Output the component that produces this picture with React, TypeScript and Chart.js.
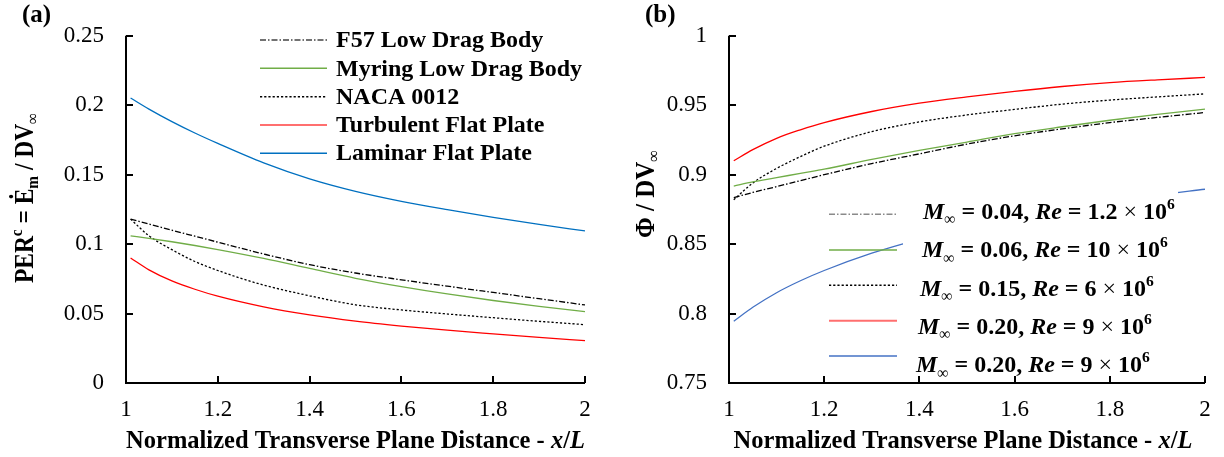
import React, { useEffect, useRef } from 'react';
import { Chart, registerables } from 'chart.js';

Chart.register(...registerables);

const FONT = '"Liberation Serif", "Times New Roman", Times, serif';

// Shared abscissa: normalized transverse plane distance x/L
const X_DIST = [1.01, 1.05, 1.1, 1.15, 1.2, 1.3, 1.4, 1.5, 1.6, 1.7, 1.8, 1.9, 2.0];
const X_TICKS = [1, 1.2, 1.4, 1.6, 1.8, 2];
const X_TICK_LABELS = ['1', '1.2', '1.4', '1.6', '1.8', '2'];

// (a) PER^c = E_m / D V_inf
const PER_TICKS = [0, 0.05, 0.1, 0.15, 0.2, 0.25];
const PER_TICK_LABELS = ['0', '0.05', '0.1', '0.15', '0.2', '0.25'];
const PER_F57 = [0.118, 0.1145, 0.11, 0.1057, 0.1014, 0.0929, 0.0852, 0.0792, 0.0743, 0.0697, 0.0652, 0.0607, 0.0562];
const PER_MYRING = [0.106, 0.1042, 0.1017, 0.099, 0.0961, 0.0897, 0.0825, 0.0754, 0.0694, 0.0641, 0.0594, 0.0552, 0.0514];
const PER_NACA = [0.118, 0.106, 0.096, 0.0875, 0.081, 0.0705, 0.0628, 0.0563, 0.0526, 0.0497, 0.047, 0.0444, 0.042];
const PER_TURB = [0.09, 0.0815, 0.0735, 0.0675, 0.0625, 0.0548, 0.049, 0.0445, 0.041, 0.038, 0.0354, 0.0329, 0.0305];
const PER_LAM = [0.2052, 0.1972, 0.1882, 0.18, 0.1725, 0.1585, 0.147, 0.138, 0.1308, 0.1248, 0.1193, 0.1142, 0.1095];
const BODY_LABELS = ['F57 Low Drag Body', 'Myring Low Drag Body', 'NACA 0012', 'Turbulent Flat Plate', 'Laminar Flat Plate'];

// (b) Phi / D V_inf
const PHI_TICKS = [0.75, 0.8, 0.85, 0.9, 0.95, 1];
const PHI_TICK_LABELS = ['0.75', '0.8', '0.85', '0.9', '0.95', '1'];
const PHI_M004 = [0.8835, 0.8872, 0.8914, 0.8957, 0.9, 0.908, 0.915, 0.922, 0.928, 0.933, 0.9375, 0.9412, 0.9448];
const PHI_M006 = [0.8918, 0.8948, 0.8978, 0.901, 0.904, 0.911, 0.9175, 0.9235, 0.9295, 0.9345, 0.9392, 0.9434, 0.9472];
const PHI_M015 = [0.882, 0.894, 0.9045, 0.913, 0.9205, 0.931, 0.938, 0.943, 0.947, 0.9508, 0.9537, 0.956, 0.9582];
const PHI_M020_TURB = [0.91, 0.918, 0.9262, 0.9323, 0.9375, 0.9455, 0.9515, 0.956, 0.96, 0.9635, 0.9663, 0.9683, 0.97];
const PHI_M020_LAM = [0.7945, 0.8045, 0.815, 0.8236, 0.831, 0.8435, 0.8535, 0.862, 0.8693, 0.8755, 0.8808, 0.8855, 0.8895];
const MACH = ['0.04', '0.06', '0.15', '0.20', '0.20'];
const REYNOLDS = ['1.2', '10', '6', '9', '9'];

type Run = { t: string; b?: boolean; i?: boolean; s?: number; dy?: number };
type LineStyle = { color: string; dash: number[]; swatch?: string; swatchWidth?: number };

const STYLES_A: LineStyle[] = [
  { color: '#000000', dash: [6, 2, 1.5, 2], swatch: '#444444' },
  { color: '#70AD47', dash: [] },
  { color: '#000000', dash: [2.2, 2] },
  { color: '#FF0000', dash: [], swatch: '#FF6F6F', swatchWidth: 2 },
  { color: '#0070C0', dash: [] },
];
const STYLES_B: LineStyle[] = [
  { color: '#000000', dash: [6, 2, 1.5, 2], swatch: '#8A8A8A', swatchWidth: 1.6 },
  { color: '#70AD47', dash: [] },
  { color: '#000000', dash: [2.2, 2] },
  { color: '#FF0000', dash: [], swatch: '#FF6F6F', swatchWidth: 2 },
  { color: '#4472C4', dash: [] },
];

function runFont(r: Run, size: number) {
  const px = Math.round(size * (r.s ?? 1) * 10) / 10;
  return `${r.i ? 'italic ' : ''}${r.b === false ? '' : 'bold '}${px}px ${FONT}`;
}

function measureRuns(ctx: CanvasRenderingContext2D, runs: Run[], size: number) {
  let w = 0;
  for (const r of runs) {
    ctx.font = runFont(r, size);
    w += ctx.measureText(r.t).width;
  }
  return w;
}

function drawRuns(ctx: CanvasRenderingContext2D, runs: Run[], x: number, y: number, size: number, align: 'left' | 'center' = 'left') {
  let cx = align === 'center' ? x - measureRuns(ctx, runs, size) / 2 : x;
  ctx.textAlign = 'left';
  ctx.textBaseline = 'alphabetic';
  ctx.fillStyle = '#000';
  for (const r of runs) {
    ctx.font = runFont(r, size);
    ctx.fillText(r.t, cx, y + (r.dy ?? 0) * size);
    cx += ctx.measureText(r.t).width;
  }
}

function drawVertical(ctx: CanvasRenderingContext2D, runs: Run[], baseX: number, centerY: number, size: number, length: number) {
  ctx.save();
  ctx.translate(baseX, centerY);
  ctx.rotate(-Math.PI / 2);
  const w = measureRuns(ctx, runs, size);
  ctx.scale(length / w, 1);
  drawRuns(ctx, runs, 0, 0, size, 'center');
  ctx.restore();
}

const X_TITLE: Run[] = [
  { t: 'Normalized Transverse Plane Distance - ' },
  { t: 'x', i: true },
  { t: '/' },
  { t: 'L', i: true },
];

const Y_TITLE_A: Run[] = [
  { t: 'PER' },
  { t: 'c', s: 0.65, dy: -0.42 },
  { t: ' = Ė' },
  { t: 'm', s: 0.65, dy: 0.2 },
  { t: ' / DV' },
  { t: '∞', s: 0.65, dy: 0.2, b: false },
];

const Y_TITLE_B: Run[] = [
  { t: 'Φ' },
  { t: ' / DV' },
  { t: '∞', s: 0.65, dy: 0.2, b: false },
];

function machRuns(m: string, re: string): Run[] {
  return [
    { t: 'M', i: true },
    { t: '∞', s: 0.65, dy: 0.22, b: false },
    { t: ` = ${m}, ` },
    { t: 'Re', i: true },
    { t: ` = ${re} ` },
    { t: '×', b: false },
    { t: ' 10' },
    { t: '6', s: 0.65, dy: -0.42 },
  ];
}

function strokeSwatch(ctx: CanvasRenderingContext2D, st: LineStyle, x0: number, x1: number, y: number) {
  ctx.save();
  ctx.strokeStyle = st.swatch ?? st.color;
  ctx.lineWidth = st.swatchWidth ?? 1.4;
  ctx.setLineDash(st.dash);
  ctx.beginPath();
  ctx.moveTo(x0, y);
  ctx.lineTo(x1, y);
  ctx.stroke();
  ctx.restore();
}

function axesFrame(chart: Chart, yTicks: number[]) {
  const { ctx, chartArea: a, scales } = chart;
  const x = scales.x;
  const y = scales.y;
  ctx.save();
  ctx.strokeStyle = '#000';
  ctx.lineWidth = 2;
  ctx.setLineDash([]);
  ctx.beginPath();
  ctx.moveTo(a.left, a.top);
  ctx.lineTo(a.left, a.bottom);
  ctx.lineTo(a.right, a.bottom);
  for (const v of X_TICKS) {
    const px = Math.round(x.getPixelForValue(v));
    ctx.moveTo(px, a.bottom);
    ctx.lineTo(px, a.bottom - 7);
  }
  for (const v of yTicks) {
    const py = Math.round(y.getPixelForValue(v));
    ctx.moveTo(a.left, py);
    ctx.lineTo(a.left + 7, py);
  }
  ctx.stroke();
  ctx.restore();
}

function makeDatasets(labels: string[], series: number[][], styles: LineStyle[]) {
  return series.map((vals, k) => ({
    label: labels[k],
    data: vals.map((v, i) => ({ x: X_DIST[i], y: v })),
    borderColor: styles[k].color,
    borderWidth: 1.3,
    borderDash: styles[k].dash,
    pointRadius: 0,
    fill: false,
    cubicInterpolationMode: 'monotone' as const,
  }));
}

function makeOptions(yTicks: number[], yLabels: string[], yWidth: number, pad: { top: number; right: number }) {
  const tickFont = { family: FONT, size: 23 };
  return {
    responsive: false,
    animation: false as const,
    events: [] as any[],
    layout: { padding: { left: 0, right: pad.right, top: pad.top, bottom: 0 } },
    plugins: { legend: { display: false }, tooltip: { enabled: false }, title: { display: false } },
    scales: {
      x: {
        type: 'linear' as const,
        min: 1,
        max: 2,
        grid: { display: false, drawTicks: false },
        border: { display: false },
        afterBuildTicks: (s: any) => {
          s.ticks = X_TICKS.map((v) => ({ value: v }));
        },
        afterFit: (s: any) => {
          s.height = 74;
        },
        ticks: {
          font: tickFont,
          color: '#000',
          padding: 13,
          maxRotation: 0,
          autoSkip: false,
          callback: (_v: any, i: number) => X_TICK_LABELS[i],
        },
      },
      y: {
        type: 'linear' as const,
        min: yTicks[0],
        max: yTicks[yTicks.length - 1],
        grid: { display: false, drawTicks: false },
        border: { display: false },
        afterBuildTicks: (s: any) => {
          s.ticks = yTicks.map((v) => ({ value: v }));
        },
        afterFit: (s: any) => {
          s.width = yWidth;
        },
        ticks: {
          font: tickFont,
          color: '#000',
          padding: 22,
          autoSkip: false,
          callback: (_v: any, i: number) => yLabels[i],
        },
      },
    },
  };
}

export default function App() {
  const refA = useRef<HTMLCanvasElement>(null);
  const refB = useRef<HTMLCanvasElement>(null);

  useEffect(() => {
    const chartA = new Chart(refA.current!, {
      type: 'line',
      data: {
        datasets: makeDatasets(BODY_LABELS, [PER_F57, PER_MYRING, PER_NACA, PER_TURB, PER_LAM], STYLES_A),
      },
      options: makeOptions(PER_TICKS, PER_TICK_LABELS, 126, { top: 33.5, right: 27 }) as any,
      plugins: [
        {
          id: 'panelA',
          afterDraw(chart: Chart) {
            const ctx = chart.ctx;
            const a = chart.chartArea;
            axesFrame(chart, PER_TICKS);
            drawRuns(ctx, [{ t: '(a)' }], 22, 22, 25);
            drawRuns(ctx, X_TITLE, (a.left + a.right) / 2, 448, 24.5, 'center');
            drawVertical(ctx, Y_TITLE_A, 33, 198, 27, 170);
            const swatchY = [40, 68.3, 96.7, 125, 153.3];
            const textY = [47.3, 75.5, 103.7, 132, 160.2];
            BODY_LABELS.forEach((lab, k) => {
              strokeSwatch(ctx, STYLES_A[k], 260, 327, swatchY[k]);
              drawRuns(ctx, [{ t: lab }], 336, textY[k], 24);
            });
          },
        },
      ],
    });

    const chartB = new Chart(refB.current!, {
      type: 'line',
      data: {
        datasets: makeDatasets(
          MACH.map((m, k) => `M∞ = ${m}, Re = ${REYNOLDS[k]} × 10⁶`),
          [PHI_M004, PHI_M006, PHI_M015, PHI_M020_TURB, PHI_M020_LAM],
          STYLES_B,
        ),
      },
      options: makeOptions(PHI_TICKS, PHI_TICK_LABELS, 117, { top: 28, right: 19 }) as any,
      plugins: [
        {
          id: 'panelB',
          afterDraw(chart: Chart) {
            const ctx = chart.ctx;
            // opaque legend text box over the plot
            ctx.save();
            ctx.fillStyle = '#fff';
            ctx.fillRect(291, 185, 275, 195);
            ctx.restore();
            axesFrame(chart, PHI_TICKS);
            drawRuns(ctx, [{ t: '(b)' }], 33, 22, 25);
            drawRuns(ctx, X_TITLE, 351, 448, 24.5, 'center');
            drawVertical(ctx, Y_TITLE_B, 42, 194, 27, 88);
            const swatchY = [214.3, 250, 285.3, 320.7, 356];
            const textY = [219, 257.3, 295.7, 334, 372.3];
            const textX = [311, 310, 308, 306, 304];
            MACH.forEach((m, k) => {
              strokeSwatch(ctx, STYLES_B[k], 217, 285, swatchY[k]);
              drawRuns(ctx, machRuns(m, REYNOLDS[k]), textX[k], textY[k], 24);
            });
          },
        },
      ],
    });

    return () => {
      chartA.destroy();
      chartB.destroy();
    };
  }, []);

  return (
    <div style={{ position: 'absolute', left: 0, top: 0, width: 1224, height: 457, background: '#fff' }}>
      <canvas ref={refA} width={612} height={457} style={{ position: 'absolute', left: 0, top: 0, display: 'block' }} />
      <canvas ref={refB} width={612} height={457} style={{ position: 'absolute', left: 612, top: 0, display: 'block' }} />
    </div>
  );
}
